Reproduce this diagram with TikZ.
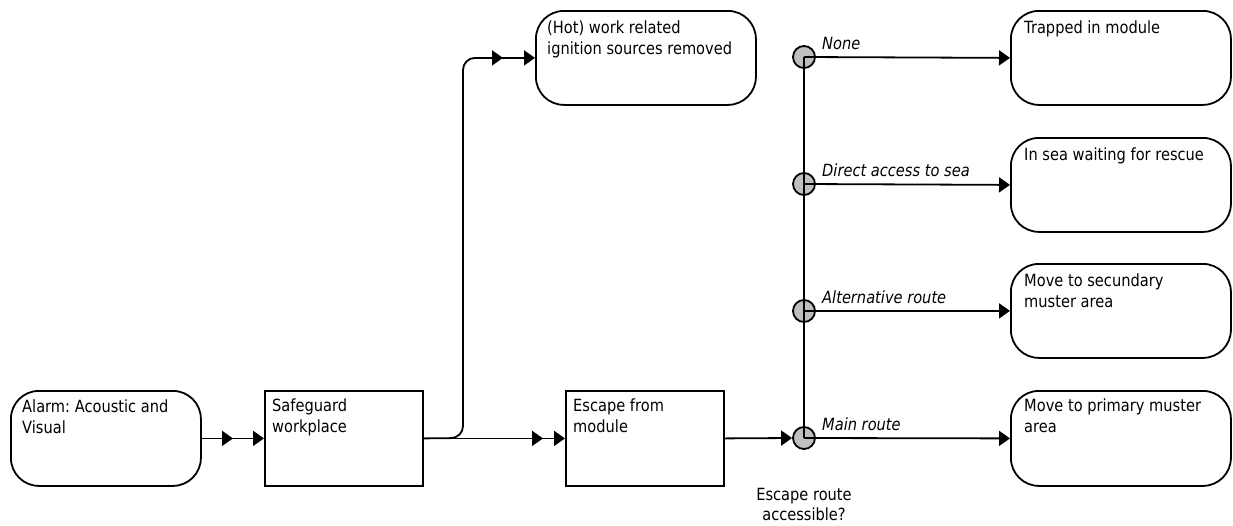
\documentclass[tikz,border=0pt]{standalone}
\usepackage{fontspec}
\setmainfont{DejaVu Sans}[FakeStretch=0.87]
\frenchspacing
\usetikzlibrary{arrows.meta,decorations.markings}
\tikzset{
  tri/.tip={Triangle[length=11pt,width=15pt]},
  base/.style={draw=black, line width=1.8pt, anchor=north west, inner sep=0pt},
  sqbox/.style={base, minimum width=158pt, minimum height=95pt},
  rbox/.style={base, rounded corners=28pt, minimum width=220pt, minimum height=94pt},
  txt/.style={anchor=north west, inner sep=0pt, align=left, font=\fontsize{16.8}{21}\selectfont},
  lab/.style={anchor=base west, inner sep=0pt, font=\fontsize{16.8}{21}\selectfont\itshape},
  dot/.style={circle, draw=black, line width=1.8pt, fill=black!25, minimum size=22pt, inner sep=0pt},
  conn/.style={line width=1.8pt},
  arr/.style={conn, -{tri}},
  midarr/.style={decoration={markings, mark=at position -#1 with {\arrow{tri}}}, postaction={decorate}},
}
\begin{document}
\begin{tikzpicture}[x=1pt,y=-1pt]
\useasboundingbox (0,0) rectangle (1233,525);
% boxes
\node[rbox, minimum width=190pt, minimum height=95pt] (alarm) at (10,390) {};
\node[sqbox] (safe) at (264,390) {};
\node[sqbox] (esc) at (565,390) {};
\node[rbox] (hot) at (535,10) {};
\node[rbox] (r1) at (1010,10) {};
\node[rbox] (r2) at (1010,137) {};
\node[rbox] (r3) at (1010,263) {};
\node[rbox, minimum height=95pt] (r4) at (1010,390) {};
% texts
\node[txt] at (22,400) {Alarm: Acoustic and\\Visual};
\node[txt] at (272,399) {Safeguard\\workplace};
\node[txt] at (573,399) {Escape from\\module};
\node[txt] at (547,21) {(Hot) work related\\ignition sources removed};
\node[txt] at (1024,21) {Trapped in module};
\node[txt] at (1024,148) {In sea waiting for rescue};
\node[txt] at (1024,274) {Move to secundary\\muster area};
\node[txt] at (1024,399) {Move to primary muster\\area};
% decision dots
\node[dot] (c1) at (804,57) {};
\node[dot] (c2) at (804,184) {};
\node[dot] (c3) at (804,311) {};
\node[dot] (c4) at (804,438) {};
\node[txt, anchor=north, align=center, font=\fontsize{16.8}{20}\selectfont] at (804,488) {Escape route\\accessible?};
% labels
\node[lab] at (822,49) {None};
\node[lab] at (822,176) {Direct access to sea};
\node[lab] at (822,303) {Alternative route};
\node[lab] at (822,430) {Main route};
% connectors
\coordinate (br) at (463,438);
\draw[arr, midarr=31pt] (alarm.east) -- (safe.west);
\draw[arr, midarr=22pt] (safe.east) -- (esc.west);
\draw[arr, midarr=32pt, rounded corners=12pt] (safe.east) -- (br) |- (hot.west);
\draw[arr] (esc.east) -- (c4.west);
\draw[conn] (c1.center) -- (c4.center);
\draw[arr] (c1.center) -- (r1.west);
\draw[arr] (c2.center) -- (r2.west);
\draw[arr] (c3.center) -- (r3.west);
\draw[arr] (c4.center) -- (r4.west);
\end{tikzpicture}
\end{document}
